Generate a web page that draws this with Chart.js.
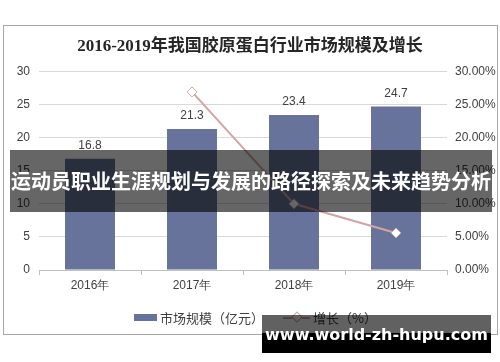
<!DOCTYPE html>
<html>
<head>
<meta charset="utf-8">
<script src="https://cdn.jsdelivr.net/npm/chart.js@4"></script>
<style>
  body { margin: 0; background: #fff; }
  #wrap { position: relative; width: 500px; height: 362px; overflow: hidden; }
  #frame { position: absolute; left: 3px; top: 25px; width: 493px; height: 308px; border: 1px solid #a6a6a6; }
  canvas { position: absolute; left: 0; top: 0; }
  .legend { position: absolute; top: 308px; font: 13px "Noto Sans CJK SC", sans-serif; color: #404040; display: flex; align-items: center; }
  .swatch-bar { width: 23px; height: 7px; background: #67739a; margin-right: 3px; }
  .swatch-line { position: relative; width: 27px; height: 2px; background: #d2a5a5; margin-right: 3px; }
  .swatch-line i { position: absolute; left: 10px; top: -4px; width: 6px; height: 6px; background: #fff; border: 1px solid #d2a5a5; transform: rotate(45deg); }
  #banner { position: absolute; left: 10px; top: 150px; width: 482px; height: 62px; background: rgba(0,0,0,0.6);
    color: #fff; font: bold 20px "Noto Sans CJK SC", sans-serif; text-align: center; line-height: 62px; letter-spacing: 0px; }
  #mark { position: absolute; left: 262px; top: 315px; width: 229px; height: 38px;
    background: linear-gradient(to bottom, rgba(0,0,0,0.62) 0, rgba(0,0,0,0.62) 18px, #000 18px);
    color: #fff; font: bold 16px "DejaVu Sans", sans-serif; text-align: center; line-height: 40px; }
</style>
</head>
<body>
<div id="wrap">
  <div id="frame"></div>
  <canvas id="chart" width="500" height="362"></canvas>
  <div class="legend" style="left:134px"><span class="swatch-bar"></span>市场规模（亿元）</div>
  <div class="legend" style="left:283px"><span class="swatch-line"><i></i></span>增长（%）</div>
  <div id="banner">运动员职业生涯规划与发展的路径探索及未来趋势分析</div>
  <div id="mark">www.world-zh-hupu.com</div>
</div>
<script>
// 数据
const years = ['2016年', '2017年', '2018年', '2019年'];
const marketSize = [16.8, 21.3, 23.4, 24.7];
const growthRate = [null, 26.9, 10.0, 5.6];

// 柱顶数值标签（柱状图是第 2 个数据集）
const barLabels = {
  id: 'barLabels',
  afterDatasetsDraw(chart) {
    const ctx = chart.ctx;
    const meta = chart.getDatasetMeta(1);
    ctx.save();
    ctx.font = '12px "Liberation Sans", Arial, sans-serif';
    ctx.fillStyle = '#404040';
    ctx.textAlign = 'center';
    ctx.textBaseline = 'middle';
    meta.data.forEach((bar, i) => {
      ctx.fillText(marketSize[i].toFixed(1), bar.x, bar.y - 13);
    });
    ctx.restore();
  }
};

const tickFont = { family: '"Liberation Sans", Arial, sans-serif', size: 12 };

new Chart(document.getElementById('chart'), {
  type: 'bar',
  data: {
    labels: years,
    datasets: [
      {
        type: 'line',
        label: '增长（%）',
        data: growthRate,
        yAxisID: 'y1',
        borderColor: '#d2a5a5',
        borderWidth: 2,
        pointStyle: 'rectRot',
        pointRadius: 5,
        pointBackgroundColor: '#fff',
        pointBorderColor: '#d2a5a5',
        pointBorderWidth: 1,
        tension: 0,
        order: 0,
      },
      {
        label: '市场规模（亿元）',
        data: marketSize,
        yAxisID: 'y',
        backgroundColor: '#67739a',
        barPercentage: 0.49,
        categoryPercentage: 1,
        order: 1,
      },
    ],
  },
  options: {
    responsive: false,
    animation: false,
    layout: { padding: { left: 0, right: 0, top: 0, bottom: 62 } },
    scales: {
      x: {
        grid: { display: true, offset: true, drawOnChartArea: false, tickLength: 5, color: '#bfbfbf' },
        border: { color: '#bfbfbf' },
        ticks: { font: tickFont, color: '#404040', padding: 3 },
        afterFit(s) { s.height = 30; },
      },
      y: {
        position: 'left',
        min: 0, max: 30,
        ticks: { stepSize: 5, font: tickFont, color: '#404040', padding: 9 },
        grid: { color: '#d9d9d9', drawTicks: false },
        border: { display: false },
        afterFit(s) { s.width = 39; },
      },
      y1: {
        position: 'right',
        min: 0, max: 30,
        ticks: { stepSize: 5, font: tickFont, color: '#404040', padding: 8,
          callback: v => v.toFixed(2) + '%' },
        grid: { display: false, drawTicks: false },
        border: { display: false },
        afterFit(s) { s.width = 53; },
      },
    },
    plugins: {
      legend: { display: false },
      tooltip: { enabled: false },
      title: {
        display: true,
        text: '2016-2019年我国胶原蛋白行业市场规模及增长',
        color: '#262626',
        font: { family: '"Liberation Serif", "Noto Sans CJK SC", serif', size: 17, weight: 'bold' },
        padding: { top: 36, bottom: 15 },
      },
    },
  },
  plugins: [barLabels],
});
</script>
</body>
</html>
